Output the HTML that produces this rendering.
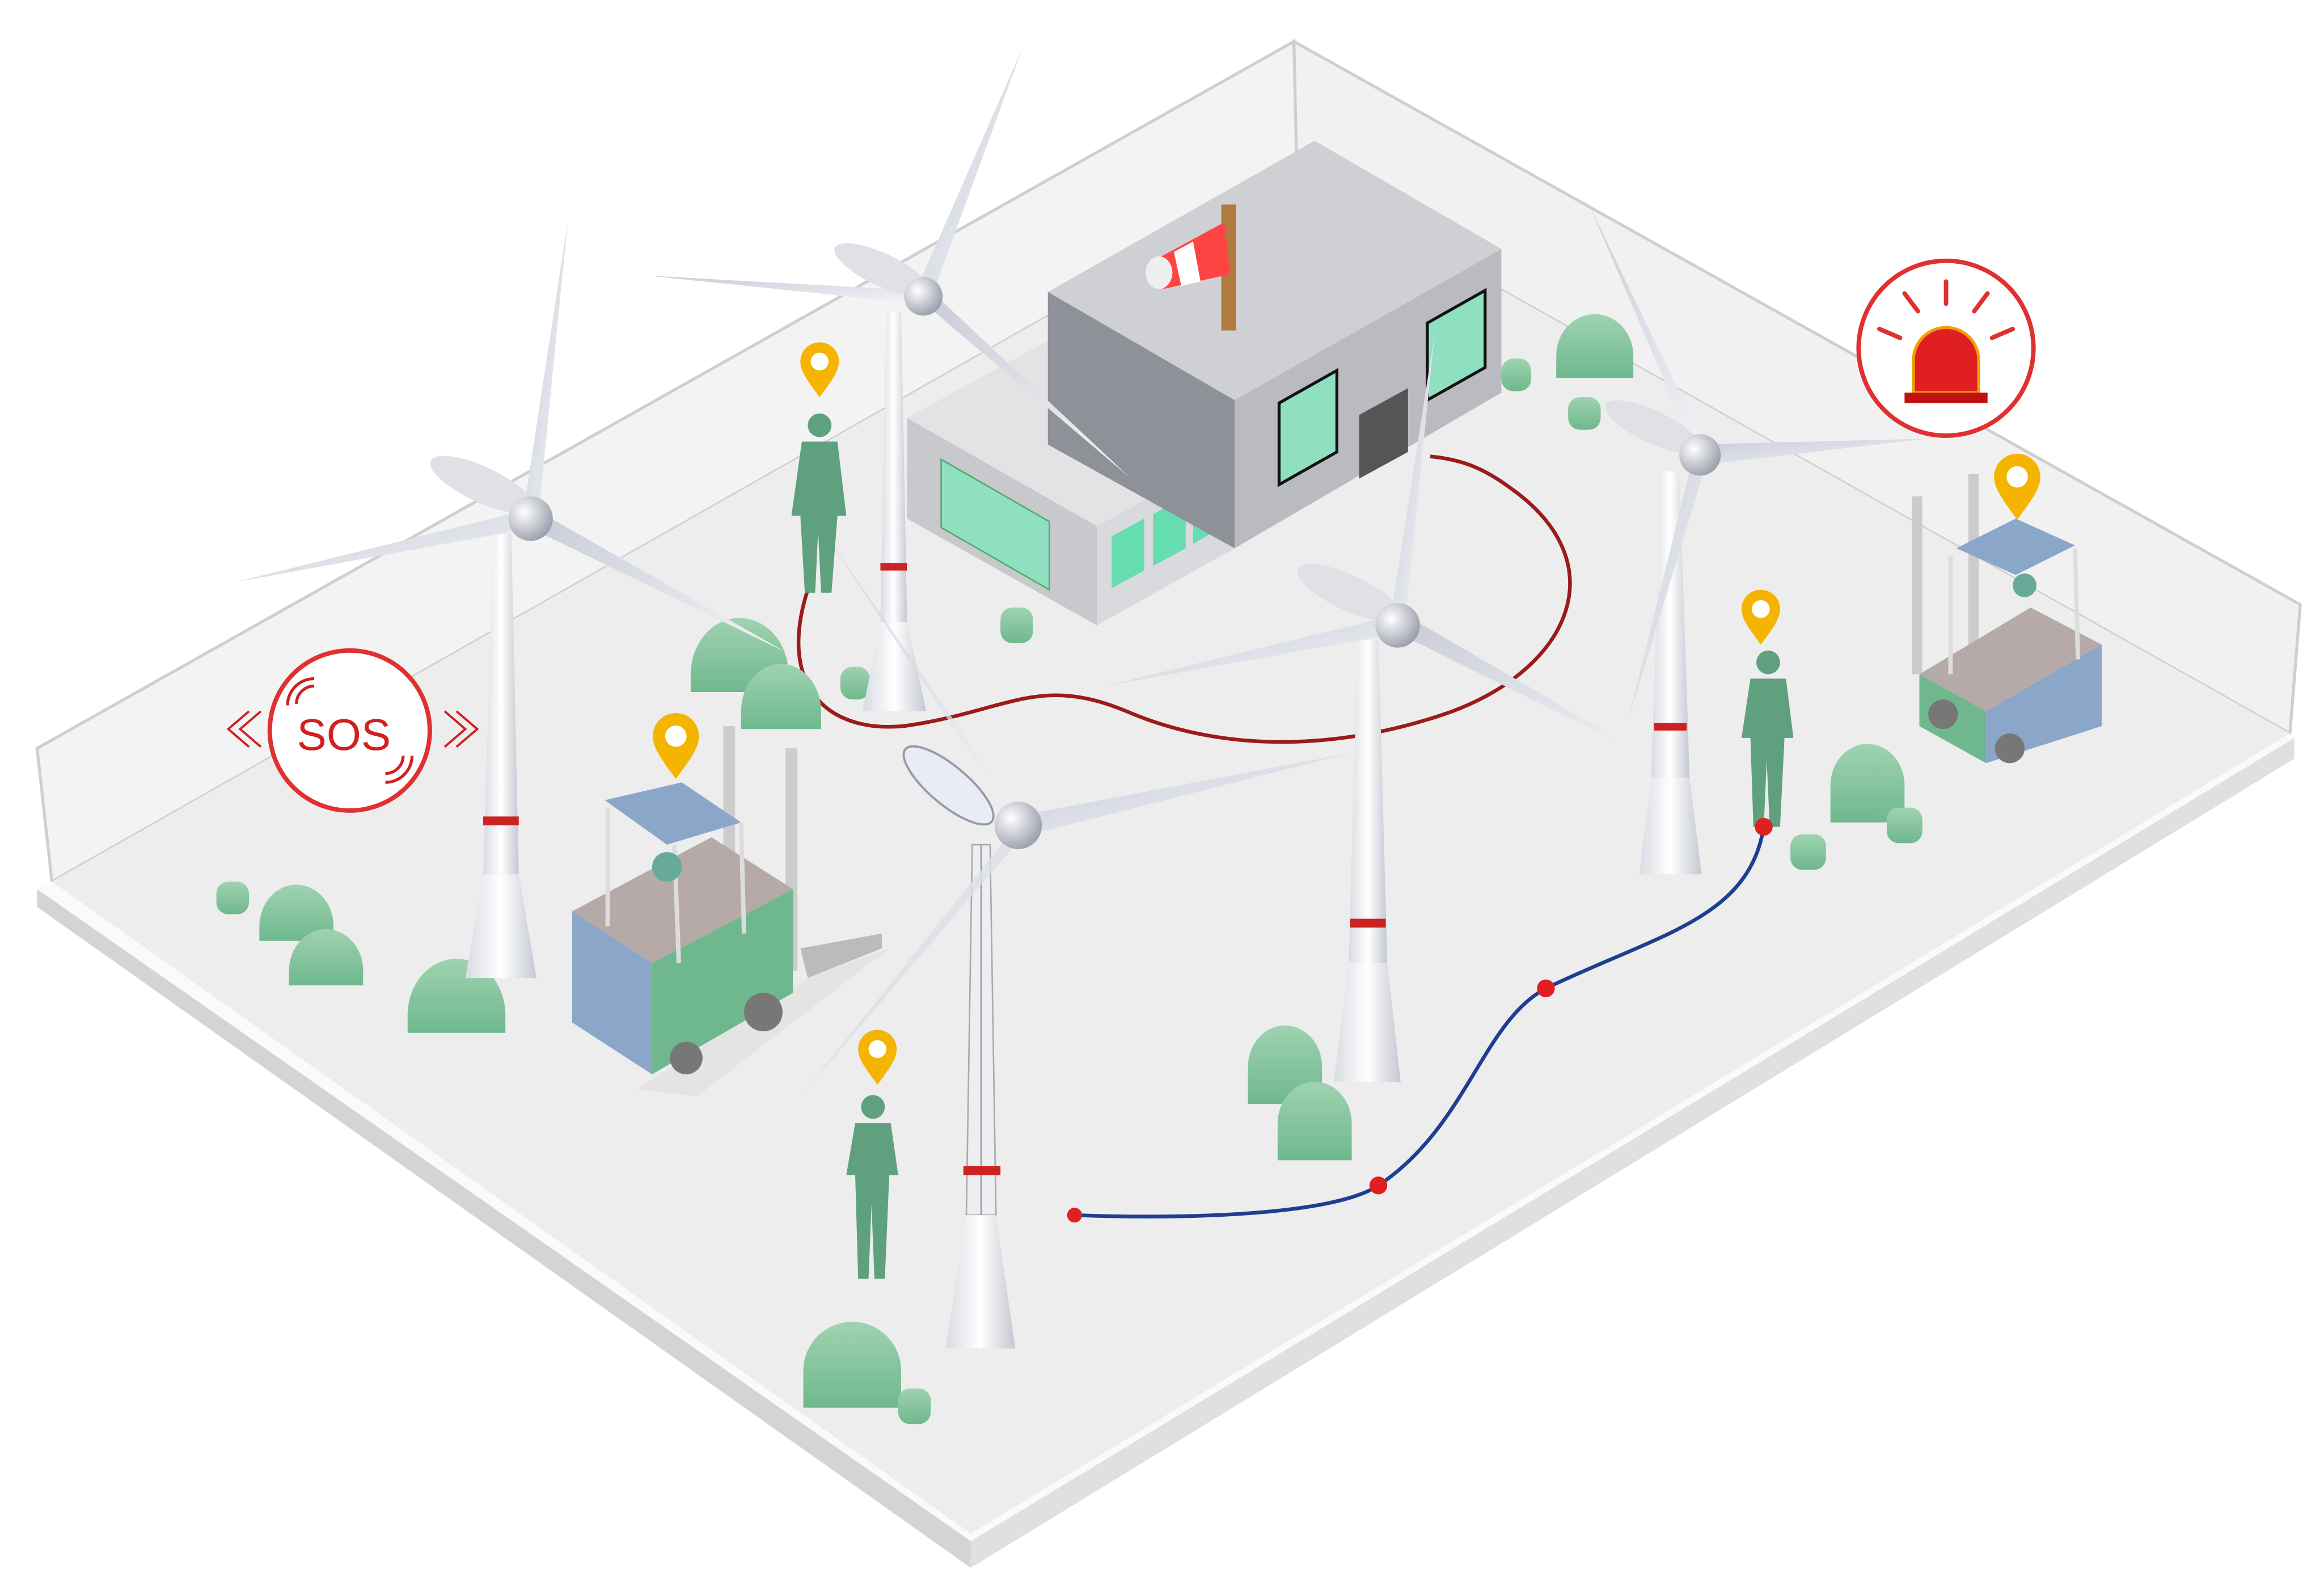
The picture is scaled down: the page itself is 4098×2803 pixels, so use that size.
<!DOCTYPE html>
<html><head><meta charset="utf-8"><style>
html,body{margin:0;padding:0;background:#fff;}
svg{display:block;}
</style></head><body>
<svg width="4098" height="2803" viewBox="0 0 1568 1073" preserveAspectRatio="none" xmlns="http://www.w3.org/2000/svg">
<defs>
<linearGradient id="bush" x1="0" y1="0" x2="0" y2="1"><stop offset="0" stop-color="#9fd3b0"/><stop offset="1" stop-color="#6fb88d"/></linearGradient>
<linearGradient id="tower" x1="0" y1="0" x2="1" y2="0"><stop offset="0" stop-color="#d8dbe2"/><stop offset=".5" stop-color="#ffffff"/><stop offset="1" stop-color="#c4c8d2"/></linearGradient>
<linearGradient id="blade" x1="0" y1="0" x2="1" y2="1"><stop offset="0" stop-color="#c9ccd8"/><stop offset="1" stop-color="#f2f3f7"/></linearGradient>
<radialGradient id="hub" cx=".35" cy=".35" r=".7"><stop offset="0" stop-color="#fff"/><stop offset="1" stop-color="#9a9eac"/></radialGradient>
<symbol id="pin" viewBox="0 0 30 40"><path d="M15 38 C6 26 2 20 2 14 A13 13 0 0 1 28 14 C28 20 24 26 15 38Z" fill="#f5b400"/><circle cx="15" cy="14" r="6" fill="#fff"/></symbol>
</defs>
<!-- walls -->
<polygon points="25,505 873,28 875,118 35,595" fill="#f3f3f3" stroke="#cfcfcf" stroke-width="2"/>
<polygon points="873,28 1552,408 1545,495 875,118" fill="#f1f1f1" stroke="#cfcfcf" stroke-width="2"/>
<!-- slab -->
<polygon points="25,600 655,1040 655,1058 25,612" fill="#d4d4d4"/>
<polygon points="655,1040 1548,498 1548,512 655,1058" fill="#e0e0e0"/>
<polygon points="35,595 655,1035 1545,495 875,118" fill="#ededed"/>
<polygon points="25,600 35,595 655,1035 1545,495 1548,498 655,1040" fill="#fafafa"/>
<!-- building -->
<polygon points="612,282 740,355 740,422 612,350" fill="#c8c9cc"/>
<polygon points="740,355 833,305 833,370 740,422" fill="#d9dadd"/>
<polygon points="612,282 707,230 833,305 740,355" fill="#e3e3e5"/>
<polygon points="635,310 708,352 708,398 635,356" fill="#8fe0c0" stroke="#5a6" stroke-width="1"/>
<polygon points="750,362 772,350 772,385 750,397" fill="#66ddb0"/>
<polygon points="778,347 800,335 800,370 778,382" fill="#66ddb0"/>
<polygon points="805,332 826,320 826,355 805,367" fill="#66ddb0"/>
<polygon points="707,197 833,270 833,370 707,300" fill="#8e9198"/>
<polygon points="833,270 1013,168 1013,265 833,370" fill="#b9bbc0"/>
<polygon points="707,197 887,95 1013,168 833,270" fill="#cfd0d3"/>
<polygon points="863,272 902,250 902,305 863,327" fill="#8fe0c0" stroke="#111" stroke-width="2"/>
<polygon points="917,280 950,262 950,305 917,323" fill="#555"/>
<polygon points="963,218 1002,196 1002,248 963,270" fill="#8fe0c0" stroke="#111" stroke-width="2"/>
<!-- windsock -->
<rect x="824" y="138" width="10" height="85" fill="#b07a40"/>
<polygon points="780,175 826,150 830,185 785,195" fill="#f44"/>
<polygon points="792,170 805,163 810,190 797,193" fill="#fff"/>
<ellipse cx="782" cy="184" rx="9" ry="11" fill="#eee"/>
<!-- red path -->
<path d="M545,398 C525,460 555,495 610,490 C680,480 700,455 760,480 C830,510 910,505 980,480 C1060,450 1090,380 1020,330 C1000,315 985,310 965,308" fill="none" stroke="#9b1b1b" stroke-width="2.5"/>
<!-- bushes -->
<g fill="url(#bush)">
<path d="M175,625 a25,28 0 0 1 50,0 v10 h-50z"/>
<path d="M195,655 a25,28 0 0 1 50,0 v10 h-50z"/>
<path d="M275,685 a33,38 0 0 1 66,0 v12 h-66z"/>
<rect x="146" y="595" width="22" height="22" rx="8"/>
<path d="M466,455 a33,38 0 0 1 66,0 v12 h-66z"/>
<path d="M500,480 a27,32 0 0 1 54,0 v12 h-54z"/>
<rect x="567" y="450" width="20" height="22" rx="8"/>
<rect x="675" y="410" width="22" height="24" rx="8"/>
<path d="M842,720 a25,28 0 0 1 50,0 v25 h-50z"/>
<path d="M862,758 a25,28 0 0 1 50,0 v25 h-50z"/>
<path d="M1235,530 a25,28 0 0 1 50,0 v25 h-50z"/>
<rect x="1273" y="545" width="24" height="24" rx="8"/>
<rect x="1208" y="563" width="24" height="24" rx="8"/>
<path d="M1050,240 a26,28 0 0 1 52,0 v15 h-52z"/>
<rect x="1013" y="242" width="20" height="22" rx="8"/>
<rect x="1058" y="268" width="22" height="22" rx="8"/>
<path d="M542,925 a33,33 0 0 1 66,0 v25 h-66z"/>
<rect x="606" y="937" width="22" height="24" rx="8"/>
</g>
<!-- turbines -->
<g id="t">
<!-- T2 -->
<polygon points="598,210 608,210 612,420 594,420" fill="url(#tower)"/>
<polygon points="594,420 612,420 625,480 582,480" fill="url(#tower)"/>
<rect x="594" y="380" width="18" height="5" fill="#c22"/>
<polygon points="618,196 690,32 628,202" fill="url(#blade)"/><polygon points="618,196 437,186 620,205" fill="url(#blade)"/><polygon points="624,205 762,322 630,198" fill="url(#blade)"/>
<ellipse cx="595" cy="182" rx="35" ry="11" transform="rotate(25 595 182)" fill="#dfe1e7"/>
<circle cx="623" cy="200" r="13" fill="url(#hub)"/>
<!-- T1 -->
<polygon points="333,360 345,360 350,590 326,590" fill="url(#tower)"/>
<polygon points="326,590 350,590 362,660 314,660" fill="url(#tower)"/>
<rect x="326" y="551" width="24" height="6" fill="#c22"/>
<polygon points="353,346 383,150 363,352" fill="url(#blade)"/><polygon points="352,345 158,393 355,357" fill="url(#blade)"/><polygon points="357,356 530,440 365,346" fill="url(#blade)"/>
<ellipse cx="325" cy="327" rx="38" ry="12" transform="rotate(25 325 327)" fill="#dfe1e7"/>
<circle cx="358" cy="350" r="15" fill="url(#hub)"/>
<!-- T4 -->
<polygon points="1121,318 1133,318 1140,525 1114,525" fill="url(#tower)"/>
<polygon points="1114,525 1140,525 1148,590 1106,590" fill="url(#tower)"/>
<rect x="1116" y="488" width="22" height="5" fill="#c22"/>
<polygon points="1142,302 1073,140 1152,304" fill="url(#blade)"/><polygon points="1145,300 1300,296 1147,314" fill="url(#blade)"/><polygon points="1142,310 1098,488 1152,310" fill="url(#blade)"/>
<ellipse cx="1115" cy="288" rx="35" ry="11" transform="rotate(25 1115 288)" fill="#dfe1e7"/>
<circle cx="1147" cy="307" r="14" fill="url(#hub)"/>
<!-- T3 -->
<polygon points="916,432 930,432 936,650 910,650" fill="url(#tower)"/>
<polygon points="910,650 936,650 945,730 900,730" fill="url(#tower)"/>
<rect x="911" y="620" width="24" height="6" fill="#c22"/>
<polygon points="938,418 968,225 948,420" fill="url(#blade)"/><polygon points="938,416 745,463 940,428" fill="url(#blade)"/><polygon points="945,428 1120,515 950,416" fill="url(#blade)"/>
<ellipse cx="910" cy="400" rx="38" ry="12" transform="rotate(25 910 400)" fill="#dfe1e7"/>
<circle cx="943" cy="422" r="15" fill="url(#hub)"/>
<!-- T5 lattice -->
<polygon points="656,570 668,570 672,820 652,820" fill="#eceef2" stroke="#aaa" stroke-width="1"/>
<line x1="662" y1="570" x2="662" y2="900" stroke="#999" stroke-width="1"/>
<polygon points="652,820 672,820 685,910 638,910" fill="url(#tower)"/>
<rect x="650" y="787" width="25" height="6" fill="#c22"/>
<polygon points="682,550 560,365 692,556" fill="url(#blade)" opacity=".7"/><polygon points="690,550 912,508 692,564" fill="url(#blade)"/><polygon points="682,562 540,740 692,562" fill="url(#blade)" opacity=".8"/>
<ellipse cx="640" cy="530" rx="38" ry="13" transform="rotate(40 640 530)" fill="#e8ecf4" stroke="#99a" stroke-width="1.5"/>
<circle cx="687" cy="557" r="16" fill="url(#hub)"/>
</g>
<!-- forklift 1 -->
<g>
<polygon points="430,735 545,660 600,640 470,740" fill="#ddd" opacity=".6"/>
<rect x="488" y="490" width="8" height="150" fill="#ccc"/><rect x="530" y="505" width="8" height="150" fill="#ccc"/>
<polygon points="540,640 595,630 595,640 545,660" fill="#bbb"/>
<polygon points="386,615 440,650 440,725 386,690" fill="#8aa6c8"/>
<polygon points="440,650 535,600 535,670 440,725" fill="#6fb88d"/>
<polygon points="386,615 480,565 535,600 440,650" fill="#b5aaa8"/>
<polygon points="408,540 460,528 500,555 450,570" fill="#8aa6c8"/>
<line x1="410" y1="545" x2="410" y2="625" stroke="#ddd" stroke-width="3"/><line x1="455" y1="570" x2="458" y2="650" stroke="#ddd" stroke-width="3"/><line x1="500" y1="555" x2="502" y2="630" stroke="#ddd" stroke-width="3"/>
<circle cx="450" cy="585" r="10" fill="#6a9"/><circle cx="463" cy="714" r="11" fill="#777"/><circle cx="515" cy="683" r="13" fill="#777"/>
</g>
<!-- forklift 2 -->
<g>
<rect x="1290" y="335" width="7" height="120" fill="#ccc"/><rect x="1328" y="320" width="7" height="120" fill="#ccc"/>
<polygon points="1295,455 1340,480 1340,515 1295,490" fill="#6fb88d"/>
<polygon points="1340,480 1418,435 1418,490 1340,515" fill="#8aa6c8"/>
<polygon points="1295,455 1370,410 1418,435 1340,480" fill="#b5aaa8"/>
<polygon points="1320,370 1360,350 1400,368 1360,388" fill="#8aa6c8"/>
<line x1="1316" y1="375" x2="1316" y2="455" stroke="#ddd" stroke-width="3"/><line x1="1400" y1="370" x2="1402" y2="445" stroke="#ddd" stroke-width="3"/>
<circle cx="1366" cy="395" r="8" fill="#6a9"/><circle cx="1311" cy="482" r="10" fill="#777"/><circle cx="1356" cy="505" r="10" fill="#777"/>
</g>
<!-- people -->
<g fill="#5fa07e">
<circle cx="553" cy="287" r="8"/><path d="M541,298 h24 l6,50 h-6 l-4,52 h-7 l-2,-42 l-2,42 h-7 l-3,-52 h-6z"/>
<circle cx="1193" cy="447" r="8"/><path d="M1181,458 h24 l5,40 h-6 l-3,60 h-7 l-2,-45 l-2,45 h-7 l-2,-60 h-6z"/>
<circle cx="589" cy="747" r="8"/><path d="M577,758 h24 l5,35 h-6 l-3,70 h-7 l-2,-50 l-2,50 h-7 l-2,-70 h-6z"/>
</g>
<!-- blue path -->
<path d="M725,820 C800,823 900,820 930,800 C990,760 1000,690 1043,667 C1120,630 1180,620 1190,558" fill="none" stroke="#1e3f8f" stroke-width="2.5"/>
<g fill="#e02020"><circle cx="725" cy="820" r="5"/><circle cx="930" cy="800" r="6"/><circle cx="1043" cy="667" r="6"/><circle cx="1190" cy="558" r="6"/></g>
<!-- pins -->
<use href="#pin" x="538" y="230" width="30" height="40"/>
<use href="#pin" x="438" y="480" width="36" height="48"/>
<use href="#pin" x="577" y="694" width="30" height="40"/>
<use href="#pin" x="1173" y="397" width="30" height="40"/>
<use href="#pin" x="1343" y="305" width="36" height="48"/>
<!-- SOS -->
<circle cx="236" cy="493" r="54" fill="#fff" stroke="#e03030" stroke-width="3"/>
<text x="232" y="506" font-family="Liberation Sans, sans-serif" font-size="30" fill="#d02020" text-anchor="middle">SOS</text>
<path d="M200,475 a12,12 0 0 1 12,-12 M194,476 a18,18 0 0 1 18,-18 M272,510 a12,12 0 0 1 -12,12 M278,510 a18,18 0 0 1 -18,18" fill="none" stroke="#d02020" stroke-width="2"/>
<path d="M168,480 l-14,12 l14,12 M176,480 l-14,12 l14,12 M300,480 l14,12 l-14,12 M308,480 l14,12 l-14,12" fill="none" stroke="#d02020" stroke-width="1.5"/>
<!-- alarm -->
<circle cx="1313" cy="235" r="59" fill="#fff" stroke="#e03030" stroke-width="3"/>
<path d="M1291,265 v-22 a22,22 0 0 1 44,0 v22z" fill="#e02020" stroke="#f0a000" stroke-width="2"/>
<rect x="1285" y="265" width="56" height="7" fill="#c01010"/>
<g stroke="#e03030" stroke-width="3" stroke-linecap="round"><line x1="1313" y1="190" x2="1313" y2="205"/><line x1="1285" y1="198" x2="1294" y2="210"/><line x1="1341" y1="198" x2="1332" y2="210"/><line x1="1268" y1="222" x2="1282" y2="228"/><line x1="1358" y1="222" x2="1344" y2="228"/></g>
</svg>
</body></html>
